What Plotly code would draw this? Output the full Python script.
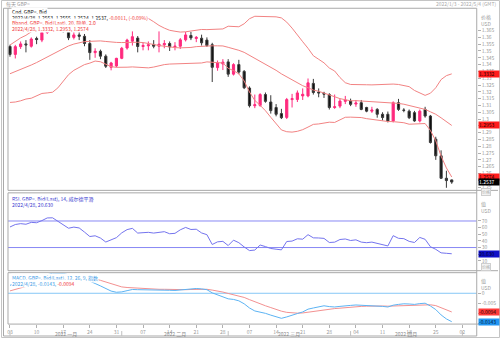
import pandas as pd
import plotly.graph_objects as go

W, H = 500, 340
FONT = "Noto Sans CJK SC"

# ---------------------------------------------------------------- data
trade_days = pd.bdate_range("2022-01-03", "2022-04-28")   # candles
axis_days = pd.bdate_range("2022-01-03", "2022-05-04")    # visible axis span

open_ = [1.3533, 1.3475, 1.3532, 1.3552, 1.3535, 1.3592, 1.3580, 1.3636, 1.3712, 1.3716,
         1.3678, 1.3645, 1.3600, 1.3618, 1.3608, 1.3555, 1.3488, 1.3498, 1.3462, 1.3380,
         1.3390, 1.3446, 1.3522, 1.3572, 1.3595, 1.3533, 1.3538, 1.3548, 1.3535, 1.3545,
         1.3555, 1.3530, 1.3535, 1.3582, 1.3614, 1.3592, 1.3594, 1.3580, 1.3546, 1.3378,
         1.3405, 1.3420, 1.3330, 1.3400, 1.3350, 1.3228, 1.3098, 1.3100, 1.3180, 1.3125,
         1.3085, 1.3040, 1.3012, 1.3143, 1.3144, 1.3170, 1.3170, 1.3262, 1.3198, 1.3190,
         1.3180, 1.3085, 1.3095, 1.3130, 1.3132, 1.3110, 1.3120, 1.3085, 1.3058, 1.3071,
         1.3035, 1.3035, 1.2986, 1.3120, 1.3066, 1.3058, 1.3047, 1.2986, 1.3071, 1.3022,
         1.2852, 1.2730, 1.2565, 1.2553]
high = [1.3546, 1.3545, 1.3570, 1.3580, 1.3600, 1.3605, 1.3650, 1.3720, 1.3749, 1.3730,
        1.3690, 1.3655, 1.3640, 1.3650, 1.3625, 1.3580, 1.3520, 1.3510, 1.3475, 1.3420,
        1.3450, 1.3530, 1.3590, 1.3644, 1.3610, 1.3560, 1.3570, 1.3580, 1.3644, 1.3580,
        1.3570, 1.3565, 1.3595, 1.3640, 1.3640, 1.3610, 1.3620, 1.3600, 1.3560, 1.3430,
        1.3440, 1.3440, 1.3410, 1.3435, 1.3360, 1.3240, 1.3180, 1.3190, 1.3195, 1.3175,
        1.3110, 1.3075, 1.3155, 1.3185, 1.3210, 1.3225, 1.3298, 1.3295, 1.3225, 1.3200,
        1.3190, 1.3180, 1.3150, 1.3170, 1.3150, 1.3140, 1.3140, 1.3090, 1.3090, 1.3080,
        1.3050, 1.3055, 1.3130, 1.3148, 1.3080, 1.3070, 1.3060, 1.3070, 1.3090, 1.3030,
        1.2870, 1.2770, 1.2620, 1.2555]
low = [1.3458, 1.3445, 1.3515, 1.3490, 1.3525, 1.3550, 1.3565, 1.3625, 1.3690, 1.3660,
       1.3635, 1.3580, 1.3585, 1.3580, 1.3535, 1.3435, 1.3450, 1.3440, 1.3375, 1.3358,
       1.3380, 1.3440, 1.3510, 1.3540, 1.3490, 1.3505, 1.3505, 1.3520, 1.3490, 1.3520,
       1.3500, 1.3505, 1.3515, 1.3570, 1.3580, 1.3565, 1.3540, 1.3530, 1.3272, 1.3355,
       1.3360, 1.3310, 1.3320, 1.3330, 1.3220, 1.3085, 1.3080, 1.3090, 1.3120, 1.3040,
       1.3020, 1.3000, 1.3000, 1.3085, 1.3125, 1.3140, 1.3160, 1.3180, 1.3160, 1.3155,
       1.3070, 1.3075, 1.3080, 1.3110, 1.3095, 1.3090, 1.3065, 1.3050, 1.3045, 1.3010,
       1.2990, 1.2975, 1.2975, 1.3060, 1.3050, 1.3000, 1.2980, 1.2975, 1.3010, 1.2820,
       1.2700, 1.2560, 1.2495, 1.2524]
close = [1.3475, 1.3532, 1.3552, 1.3545, 1.3588, 1.3584, 1.3636, 1.3712, 1.3716, 1.3678,
         1.3645, 1.3597, 1.3618, 1.3608, 1.3555, 1.3488, 1.3498, 1.3462, 1.3388, 1.3412,
         1.3446, 1.3520, 1.3580, 1.3605, 1.3533, 1.3540, 1.3545, 1.3535, 1.3550, 1.3555,
         1.3530, 1.3535, 1.3582, 1.3618, 1.3596, 1.3600, 1.3560, 1.3540, 1.3380, 1.3412,
         1.3418, 1.3330, 1.3400, 1.3345, 1.3230, 1.3098, 1.3105, 1.3180, 1.3130, 1.3062,
         1.3035, 1.3010, 1.3143, 1.3150, 1.3192, 1.3182, 1.3266, 1.3195, 1.3192, 1.3183,
         1.3085, 1.3090, 1.3132, 1.3140, 1.3108, 1.3118, 1.3071, 1.3058, 1.3066, 1.3035,
         1.3011, 1.2986, 1.3120, 1.3071, 1.3064, 1.3010, 1.2986, 1.3058, 1.3022, 1.2828,
         1.2730, 1.2565, 1.2548, 1.2537]

bb_upper = [1.3544, 1.3571, 1.3596, 1.3615, 1.3641, 1.3658, 1.3682, 1.3721, 1.3756, 1.3768,
            1.3763, 1.3748, 1.3744, 1.3744, 1.3737, 1.3732, 1.3725, 1.3727, 1.3737, 1.3744,
            1.3746, 1.3746, 1.3747, 1.3751, 1.3748, 1.3746, 1.3739, 1.3715, 1.3688, 1.3668,
            1.3652, 1.3645, 1.3639, 1.3641, 1.3647, 1.3655, 1.3658, 1.3657, 1.3659, 1.3659,
            1.3662, 1.3682, 1.3680, 1.3678, 1.3700, 1.3737, 1.3755, 1.3755, 1.3753, 1.3753,
            1.3751, 1.3743, 1.3712, 1.3668, 1.3622, 1.3568, 1.3520, 1.3465, 1.3439, 1.3413,
            1.3375, 1.3353, 1.3305, 1.3267, 1.3254, 1.3255, 1.3255, 1.3252, 1.3251, 1.3253,
            1.3255, 1.3258, 1.3257, 1.3254, 1.3244, 1.3238, 1.3210, 1.3193, 1.3174, 1.3190,
            1.3230, 1.3290, 1.3319, 1.3332]
bb_mid = [1.3333, 1.3348, 1.3365, 1.3381, 1.3397, 1.3415, 1.3435, 1.3456, 1.3476, 1.3498,
          1.3520, 1.3537, 1.3551, 1.3561, 1.3569, 1.3571, 1.3575, 1.3574, 1.3570, 1.3564,
          1.3563, 1.3562, 1.3564, 1.3567, 1.3564, 1.3562, 1.3557, 1.3548, 1.3540, 1.3534,
          1.3528, 1.3525, 1.3523, 1.3524, 1.3526, 1.3532, 1.3535, 1.3539, 1.3538, 1.3538,
          1.3537, 1.3527, 1.3518, 1.3505, 1.3490, 1.3468, 1.3446, 1.3428, 1.3407, 1.3383,
          1.3358, 1.3332, 1.3310, 1.3286, 1.3266, 1.3245, 1.3230, 1.3213, 1.3204, 1.3192,
          1.3176, 1.3164, 1.3150, 1.3140, 1.3134, 1.3135, 1.3133, 1.3127, 1.3124, 1.3123,
          1.3121, 1.3120, 1.3119, 1.3115, 1.3109, 1.3100, 1.3086, 1.3079, 1.3071, 1.3053,
          1.3035, 1.3009, 1.2980, 1.2953]
bb_lower = [1.3122, 1.3125, 1.3134, 1.3147, 1.3153, 1.3173, 1.3188, 1.3192, 1.3197, 1.3229,
            1.3277, 1.3326, 1.3358, 1.3378, 1.3400, 1.3411, 1.3426, 1.3421, 1.3404, 1.3385,
            1.3380, 1.3379, 1.3381, 1.3383, 1.3380, 1.3378, 1.3376, 1.3382, 1.3392, 1.3400,
            1.3404, 1.3405, 1.3408, 1.3407, 1.3405, 1.3408, 1.3412, 1.3420, 1.3418, 1.3418,
            1.3412, 1.3373, 1.3356, 1.3332, 1.3280, 1.3199, 1.3137, 1.3101, 1.3061, 1.3013,
            1.2965, 1.2920, 1.2907, 1.2904, 1.2910, 1.2922, 1.2941, 1.2961, 1.2964, 1.2972,
            1.2977, 1.2975, 1.2995, 1.3013, 1.3014, 1.3015, 1.3011, 1.3003, 1.2997, 1.2992,
            1.2987, 1.2982, 1.2981, 1.2977, 1.2973, 1.2962, 1.2962, 1.2966, 1.2967, 1.2916,
            1.2840, 1.2728, 1.2641, 1.2574]

rsi = [61.0, 64.7, 66.0, 65.1, 67.9, 67.4, 70.6, 74.6, 74.8, 69.4,
       65.0, 59.1, 60.8, 59.5, 53.3, 46.6, 47.7, 44.3, 38.3, 41.1,
       44.9, 52.1, 57.0, 58.9, 51.8, 52.4, 52.9, 51.8, 53.4, 53.9,
       50.8, 51.4, 56.7, 60.3, 57.2, 57.6, 52.0, 49.4, 34.6, 38.6,
       39.3, 33.0, 41.1, 37.3, 30.9, 25.4, 26.2, 33.8, 31.4, 28.6,
       27.5, 26.5, 39.1, 39.7, 43.2, 42.6, 49.4, 44.6, 44.4, 43.8,
       37.6, 38.1, 42.1, 42.9, 40.6, 41.6, 38.2, 37.3, 38.2, 35.9,
       34.1, 32.4, 47.9, 43.9, 43.4, 39.3, 37.6, 45.2, 42.4, 31.2,
       27.3, 22.0, 21.3, 20.63]

macd = [0.0040, 0.0050, 0.0059, 0.0065, 0.0072, 0.0076, 0.0083, 0.0093, 0.0101, 0.0102,
        0.0100, 0.0093, 0.0088, 0.0083, 0.0073, 0.0059, 0.0049, 0.0037, 0.0022, 0.0011,
        0.0005, 0.0007, 0.0013, 0.0019, 0.0018, 0.0018, 0.0018, 0.0017, 0.0017, 0.0017,
        0.0015, 0.0014, 0.0016, 0.0021, 0.0023, 0.0024, 0.0022, 0.0018, 0.0002, -0.0008,
        -0.0015, -0.0028, -0.0031, -0.0038, -0.0053, -0.0074, -0.0089, -0.0094, -0.0101, -0.0110,
        -0.0119, -0.0126, -0.0119, -0.0112, -0.0102, -0.0094, -0.0080, -0.0074, -0.0068, -0.0063,
        -0.0067, -0.0069, -0.0066, -0.0062, -0.0061, -0.0059, -0.0060, -0.0062, -0.0061, -0.0063,
        -0.0066, -0.0069, -0.0060, -0.0056, -0.0053, -0.0054, -0.0056, -0.0052, -0.0050, -0.0064,
        -0.0082, -0.0109, -0.0129, -0.0143]
macd_signal = [0.0012, 0.0020, 0.0027, 0.0035, 0.0042, 0.0049, 0.0056, 0.0063, 0.0071, 0.0077,
               0.0082, 0.0084, 0.0085, 0.0084, 0.0082, 0.0078, 0.0072, 0.0065, 0.0056, 0.0047,
               0.0039, 0.0032, 0.0029, 0.0027, 0.0025, 0.0024, 0.0022, 0.0021, 0.0020, 0.0020,
               0.0019, 0.0018, 0.0018, 0.0018, 0.0019, 0.0020, 0.0020, 0.0020, 0.0016, 0.0012,
               0.0006, -0.0001, -0.0007, -0.0013, -0.0021, -0.0032, -0.0043, -0.0053, -0.0063, -0.0072,
               -0.0082, -0.0090, -0.0096, -0.0099, -0.0100, -0.0099, -0.0095, -0.0091, -0.0086, -0.0082,
               -0.0079, -0.0077, -0.0075, -0.0072, -0.0070, -0.0068, -0.0066, -0.0065, -0.0064, -0.0064,
               -0.0064, -0.0065, -0.0064, -0.0062, -0.0061, -0.0059, -0.0059, -0.0057, -0.0056, -0.0058,
               -0.0062, -0.0072, -0.0083, -0.0094]

week_ticks = ["2022-01-03", "2022-01-10", "2022-01-17", "2022-01-24", "2022-01-31",
              "2022-02-07", "2022-02-14", "2022-02-21", "2022-02-28", "2022-03-07",
              "2022-03-14", "2022-03-21", "2022-03-28", "2022-04-04", "2022-04-11",
              "2022-04-18", "2022-04-25", "2022-05-02"]
month_starts = ["2022-01-03", "2022-02-01", "2022-03-01", "2022-04-01", "2022-05-02"]
month_names = ["2022 一月", "2022 二月", "2022 三月", "2022 四月"]

price_ticks = [1.25, 1.255, 1.26, 1.265, 1.27, 1.275, 1.28, 1.285, 1.29, 1.295, 1.30,
               1.305, 1.31, 1.315, 1.32, 1.325, 1.33, 1.335, 1.34, 1.345, 1.35, 1.355,
               1.36, 1.365]
price_tick_text = ["1.25", "1.255", "1.26", "1.265", "1.27", "1.275", "1.28", "1.285",
                   "1.29", "1.295", "1.3", "1.305", "1.31", "1.315", "1.32", "1.325",
                   "1.33", "1.335", "1.34", "1.345", "1.35", "1.355", "1.36", "1.365"]
rsi_ticks = [10, 20, 30, 40, 50, 60, 70]
macd_ticks = [-0.015, -0.01, -0.005, 0]
macd_tick_text = ["-0.015", "-0.01", "-0.005", "0"]

# ---------------------------------------------------------------- geometry (px)
PLOT_L, PLOT_R = 7.0, 476.7
MAIN = (8.3, 191.5)
RSI_P = (194.0, 272.3)
MACD_P = (274.3, 326.0)

PINK = "#ff2a7e"
BAND = "#f28383"
RSI_C = "#7474ee"
MACD_C = "#5cb3f3"
SIG_C = "#f39191"
GRID = "#a9a9a9"
LABEL = "#9a9a9a"


def px(x):
    return x / W


def py(y):
    return 1 - y / H


def ydom(panel):
    return [py(panel[1]), py(panel[0])]


day_pos = {d: i for i, d in enumerate(axis_days)}
x_idx = list(range(len(trade_days)))
tick_pos = [day_pos[pd.Timestamp(d)] for d in week_ticks]
tick_text = [pd.Timestamp(d).strftime("%d") for d in week_ticks]
month_pos = [day_pos[pd.Timestamp(d)] for d in month_starts]

fig = go.Figure()

fig.add_trace(go.Candlestick(
    x=x_idx, open=open_, high=high, low=low, close=close,
    increasing=dict(line=dict(color=PINK, width=1), fillcolor=PINK),
    decreasing=dict(line=dict(color="#3a3a3a", width=1), fillcolor="#101010"),
    whiskerwidth=0, hoverinfo="skip", xaxis="x", yaxis="y"))
for band in (bb_upper, bb_mid, bb_lower):
    fig.add_trace(go.Scatter(x=x_idx, y=band, mode="lines", hoverinfo="skip",
                             line=dict(color=BAND, width=1), xaxis="x", yaxis="y"))

fig.add_trace(go.Scatter(x=x_idx, y=rsi, mode="lines", hoverinfo="skip",
                         line=dict(color=RSI_C, width=1), xaxis="x", yaxis="y2"))

fig.add_trace(go.Scatter(x=x_idx, y=macd_signal, mode="lines", hoverinfo="skip",
                         line=dict(color=SIG_C, width=1), xaxis="x", yaxis="y3"))
fig.add_trace(go.Scatter(x=x_idx, y=macd, mode="lines", hoverinfo="skip",
                         line=dict(color=MACD_C, width=1), xaxis="x", yaxis="y3"))

shapes = []


def hline(y0, x0, x1, color=GRID, width=1):
    shapes.append(dict(type="line", xref="paper", yref="paper", x0=px(x0), x1=px(x1),
                       y0=py(y0), y1=py(y0), line=dict(color=color, width=width)))


def vline(x0, y0, y1, color=GRID, width=1):
    shapes.append(dict(type="line", xref="paper", yref="paper", x0=px(x0), x1=px(x0),
                       y0=py(y0), y1=py(y1), line=dict(color=color, width=width)))


# indicator guide lines
for lvl in (70, 30):
    shapes.append(dict(type="line", xref="paper", yref="y2", x0=px(PLOT_L), x1=px(PLOT_R),
                       y0=lvl, y1=lvl, line=dict(color="#8888f4", width=1), layer="below"))
shapes.append(dict(type="line", xref="paper", yref="y3", x0=px(PLOT_L), x1=px(PLOT_R),
                   y0=0, y1=0, line=dict(color="#86c8f6", width=1), layer="below"))

# outer frame and panel borders
shapes.append(dict(type="rect", xref="paper", yref="paper", x0=px(0.5), x1=px(499.5),
                   y0=py(339.5), y1=py(0.5), line=dict(color="#c4c4c4", width=1)))
for top, bottom in (MAIN, RSI_P, MACD_P):
    hline(top, PLOT_L, PLOT_R)
    hline(bottom, PLOT_L, 498)
    vline(PLOT_L, top, bottom)
vline(PLOT_R, MAIN[0], 338)
vline(2.5, MAIN[0], 338)
hline(MAIN[0], 2.5, PLOT_L)
hline(338, 2.5, PLOT_R)

# month separators under the date axis
for mp in month_pos:
    shapes.append(dict(type="line", xref="x", yref="paper", x0=mp, x1=mp,
                       y0=py(338), y1=py(333), line=dict(color="#c0c0c0", width=1)))

annotations = []


def note(x, y, text, size=5, color=LABEL, xanchor="left", bg=None, **kw):
    a = dict(xref="paper", yref="paper", x=px(x), y=py(y), text=text, showarrow=False,
             xanchor=xanchor, yanchor="middle", align="left",
             font=dict(family=FONT, size=size, color=color), borderpad=0)
    if bg:
        a["bgcolor"] = bg
    a.update(kw)
    annotations.append(a)


def value_box(yref, val, text, bg, fg):
    annotations.append(dict(xref="paper", yref=yref, x=px(477.5), y=val, text=text,
                            showarrow=False, xanchor="left", yanchor="middle", align="left",
                            width=20, height=5.5, bgcolor=bg, borderpad=0,
                            font=dict(family=FONT, size=5, color=fg)))


# header
note(4, 4, "每天 GBP=", color="#999")
note(497, 4, "2022/1/3 - 2022/5/4 (GMT)", color="#aaa", xanchor="right")

# price panel legend
RED = "#f03a3a"
note(10, 11.7, "Cnd, GBP=, Bid", color="#111", bg="white")
note(10, 17.4, "2022/4/28, 1.2553, 1.2555, 1.2524, 1.2537, "
     f"<span style='color:{RED}'>-0.0011, (-0.09%)</span>", color="#111", bg="white")
note(10, 23.2, "Bband, GBP=, Bid(Last), 20, 简单, 2.0", color=RED, bg="white")
note(10, 29.0, "2022/4/28, 1.3332, 1.2953, 1.2574", color=RED, bg="white")

# RSI legend
note(10, 199.8, "RSI, GBP=, Bid(Last), 14, 威尔德平滑", color="#3a3ad0", bg="white")
note(10, 205.4, "2022/4/28, 20.630", color="#3a3ad0", bg="white")

# MACD legend
note(10, 279.4, "MACD, GBP=, Bid(Last), 12, 26, 9, 指数", color="#3d9be6", bg="white")
note(10, 285.0, f"2022/4/28, -0.0143, <span style='color:{RED}'>-0.0094</span>",
     color="#3d9be6", bg="white")

# axis captions
note(480, 17.0, "价格")
note(480, 23.6, "USD")
note(480, 205.6, "值")
note(480, 212.0, "USD")
note(480, 282.2, "值")
note(480, 288.8, "USD")
for yb in (192.8, 268.4):
    note(486, yb, "价格", size=4, color="#b0b0b0", xanchor="center",
         bg="#f3f3f3", bordercolor="#cfcfcf", borderwidth=1)

# last-value boxes
value_box("y", bb_upper[-1], f"{bb_upper[-1]:.4f}", "#ff1c1c", "#2a0000")
value_box("y", bb_mid[-1], f"{bb_mid[-1]:.4f}", "#ff1c1c", "#2a0000")
value_box("y", bb_lower[-1], f"{bb_lower[-1]:.4f}", "#ff1c1c", "#2a0000")
value_box("y", close[-1], f"{close[-1]:.4f}", "#000000", "#ffffff")
value_box("y2", rsi[-1], f"{rsi[-1]:.3f}", "#1010c8", "#000030")
value_box("y3", macd_signal[-1], f"{macd_signal[-1]:.4f}", "#ff3b3b", "#2a0000")
value_box("y3", macd[-1], f"{macd[-1]:.4f}", "#2196f3", "#001a33")

# month captions
for i, name in enumerate(month_names):
    centre = (month_pos[i] + month_pos[i + 1]) / 2
    annotations.append(dict(xref="x", yref="paper", x=centre, y=py(335.8), text=name,
                            showarrow=False, xanchor="center", yanchor="middle",
                            font=dict(family=FONT, size=5, color="#8a8a8a")))

axis_common = dict(showgrid=False, zeroline=False, showline=False, side="right",
                   anchor="x", ticks="outside", ticklen=3, tickcolor="#b0b0b0",
                   tickfont=dict(family=FONT, size=5, color=LABEL), tickmode="array")

fig.update_layout(
    width=W, height=H, margin=dict(l=0, r=0, t=0, b=0),
    paper_bgcolor="white", plot_bgcolor="white", showlegend=False, boxgap=0.42,
    font=dict(family=FONT, size=5, color=LABEL),
    xaxis=dict(domain=[px(PLOT_L), px(PLOT_R)], range=[-0.375, 87.7], anchor="y3",
               tickmode="array", tickvals=tick_pos, ticktext=tick_text,
               ticks="outside", ticklen=3, tickcolor="#b0b0b0",
               tickfont=dict(family=FONT, size=5, color=LABEL),
               showgrid=False, zeroline=False, showline=False,
               rangeslider=dict(visible=False)),
    yaxis=dict(domain=ydom(MAIN), range=[1.2476, 1.3814],
               tickvals=price_ticks, ticktext=price_tick_text, **axis_common),
    yaxis2=dict(domain=ydom(RSI_P), range=[-4.9, 112.4],
                tickvals=rsi_ticks, ticktext=[str(t) for t in rsi_ticks], **axis_common),
    yaxis3=dict(domain=ydom(MACD_P), range=[-0.0155, 0.01035],
                tickvals=macd_ticks, ticktext=macd_tick_text, **axis_common),
    shapes=shapes, annotations=annotations,
)

fig.write_html("out.html")
